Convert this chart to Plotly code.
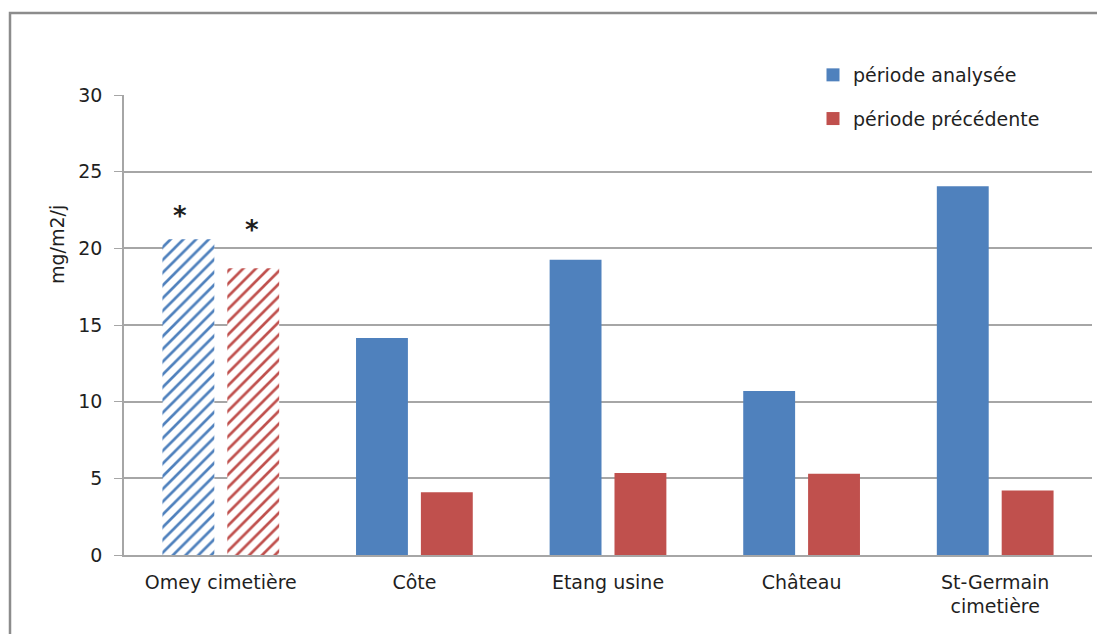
import plotly.graph_objects as go

categories = ["Omey cimetière", "Côte", "Etang usine", "Château", "St-Germain<br>cimetière"]
analysee = [20.6, 14.15, 19.25, 10.7, 24.05]
precedente = [18.7, 4.1, 5.35, 5.3, 4.2]
hatched = [True, False, False, False, False]
y_ticks = [0, 5, 10, 15, 20, 25, 30]
series_names = ["période analysée", "période précédente"]

BLUE = "#4F81BD"
RED = "#C0504D"
FONT = "DejaVu Sans"
TXT = "#1F1F1F"

# page is rendered with an 8px body margin: plot area in figure coords
L, R, T, B = 116, 1084, 87, 547
W, H = 1105, 634
PW, PH = R - L, B - T

def pattern(color):
    return dict(
        shape=["/" if h else "" for h in hatched],
        fgcolor=color,
        bgcolor=["white" if h else color for h in hatched],
        size=9,
        solidity=0.3,
        fillmode="replace",
    )

fig = go.Figure()
for vals, color, og in [(analysee, BLUE, "a"), (precedente, RED, "b")]:
    fig.add_trace(go.Bar(
        x=categories, y=vals, showlegend=False, offsetgroup=og,
        marker=dict(color=color, line=dict(width=0), pattern=pattern(color)),
    ))

# legend entries (solid squares)
for name, color, grp in [(series_names[0], BLUE, "a"), (series_names[1], RED, "b")]:
    fig.add_trace(go.Scatter(
        x=[None], y=[None], mode="markers", name=name, legendgroup=grp,
        marker=dict(symbol="square", size=13, color=color),
    ))

# asterisks on hatched bars
for i, h in enumerate(hatched):
    if h:
        fig.add_annotation(x=categories[i], y=analysee[i], text="<b>*</b>", showarrow=False,
                           xshift=-41, yshift=6, yanchor="bottom",
                           font=dict(family=FONT, size=26, color=TXT))
        fig.add_annotation(x=categories[i], y=precedente[i], text="<b>*</b>", showarrow=False,
                           xshift=31, yshift=21, yanchor="bottom",
                           font=dict(family=FONT, size=26, color=TXT))

fig.add_annotation(xref="paper", yref="paper", x=(49 - L) / PW, y=(B - 237) / PH, text="mg/m2/j",
                   textangle=-90, showarrow=False, xanchor="center", yanchor="middle",
                   font=dict(family=FONT, size=19, color=TXT))

# outer chart frame
fig.add_shape(type="rect", xref="paper", yref="paper",
              x0=(2 - L) / PW, x1=(1130 - L) / PW,
              y0=(B - 680) / PH, y1=(B - 5) / PH,
              line=dict(color="#8C8C8C", width=2.5), fillcolor="rgba(0,0,0,0)", layer="below")

fig.update_layout(
    width=W, height=H,
    margin=dict(l=L, r=W - R, t=T, b=H - B),
    paper_bgcolor="white", plot_bgcolor="white",
    barmode="group", bargap=0.33, bargroupgap=0.2,
    font=dict(family=FONT, size=19, color=TXT),
    showlegend=True,
    legend=dict(x=(805 - L) / PW, y=(B - 48) / PH, xanchor="left", yanchor="top",
                bgcolor="rgba(0,0,0,0)", tracegroupgap=16,
                font=dict(family=FONT, size=19, color=TXT),
                itemwidth=30),
    xaxis=dict(showgrid=False, showline=True, linecolor="#A6A6A6", linewidth=1.5,
               ticks="", ticklabelstandoff=9,
               tickfont=dict(family=FONT, size=19, color=TXT)),
    yaxis=dict(range=[0, 30], tickvals=y_ticks, showgrid=True, gridcolor="#A6A6A6",
               gridwidth=1.5, showline=True, linecolor="#A6A6A6", linewidth=1.5,
               ticks="outside", ticklen=8, tickcolor="#A6A6A6", zeroline=False,
               ticklabelstandoff=8,
               tickfont=dict(family=FONT, size=19, color=TXT)),
)

fig.write_html("out.html")
